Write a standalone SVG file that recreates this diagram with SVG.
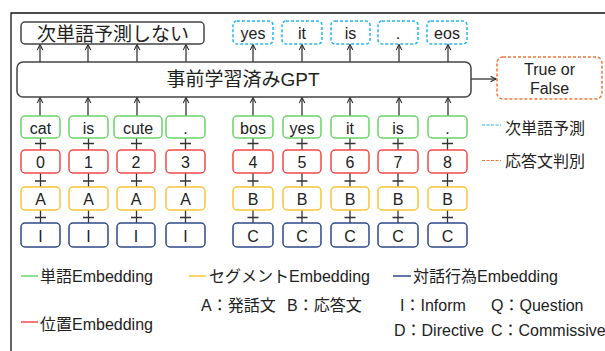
<svg xmlns="http://www.w3.org/2000/svg" width="605" height="351" viewBox="0 0 605 351">
<defs>
<marker id="ah" viewBox="0 0 10 10" refX="9" refY="5" markerWidth="7" markerHeight="7" orient="auto" markerUnits="userSpaceOnUse">
<path d="M1,1 L9,5 L1,9" fill="none" stroke="#333" stroke-width="1.6"/>
</marker>
<style>
text{font-family:"Liberation Sans","Noto Sans CJK JP",sans-serif;fill:#222;}
.t{font-size:16px;text-anchor:middle;}
.big{font-size:19px;text-anchor:middle;}
.lg{font-size:16px;}
.lr{font-size:16px;}
.box{fill:#fff;stroke-width:1.5;}
.g{stroke:#6ad46a;}
.r{stroke:#f44848;}
.y{stroke:#f8c43a;}
.b{stroke:#2e4a86;}
.k{stroke:#444;}
.cy{stroke:#2ab4ee;stroke-dasharray:3 2;}
.or{stroke:#f07838;stroke-dasharray:3 2;}
.c line{stroke:#333;stroke-width:1.3;}
.a{marker-end:url(#ah);}
</style>
</defs>
<rect width="605" height="351" fill="#fff"/>
<path d="M11,351 V13 H605" fill="none" stroke="#111" stroke-width="1.3"/>

<g id="connectors" class="c">
<line class="a" x1="40" y1="62" x2="40" y2="44.5"/>
<line class="a" x1="88" y1="62" x2="88" y2="44.5"/>
<line class="a" x1="137" y1="62" x2="137" y2="44.5"/>
<line class="a" x1="186" y1="62" x2="186" y2="44.5"/>
<line class="a" x1="253" y1="62" x2="253" y2="44.5"/>
<line class="a" x1="302" y1="62" x2="302" y2="44.5"/>
<line class="a" x1="350" y1="62" x2="350" y2="44.5"/>
<line class="a" x1="399" y1="62" x2="399" y2="44.5"/>
<line class="a" x1="448" y1="62" x2="448" y2="44.5"/>
<line class="a" x1="40" y1="116" x2="40" y2="97.5"/>
<line class="a" x1="88" y1="116" x2="88" y2="97.5"/>
<line class="a" x1="137" y1="116" x2="137" y2="97.5"/>
<line class="a" x1="186" y1="116" x2="186" y2="97.5"/>
<line class="a" x1="253" y1="116" x2="253" y2="97.5"/>
<line class="a" x1="302" y1="116" x2="302" y2="97.5"/>
<line class="a" x1="350" y1="116" x2="350" y2="97.5"/>
<line class="a" x1="399" y1="116" x2="399" y2="97.5"/>
<line class="a" x1="448" y1="116" x2="448" y2="97.5"/>
<line class="a" x1="471" y1="79" x2="496" y2="79"/>
<g id="plus">
<line x1="40.5" y1="138" x2="40.5" y2="223"/>
<line x1="88.5" y1="138" x2="88.5" y2="223"/>
<line x1="136.5" y1="138" x2="136.5" y2="223"/>
<line x1="185.5" y1="138" x2="185.5" y2="223"/>
<line x1="253" y1="138" x2="253" y2="223"/>
<line x1="302" y1="138" x2="302" y2="223"/>
<line x1="350" y1="138" x2="350" y2="223"/>
<line x1="398" y1="138" x2="398" y2="223"/>
<line x1="447.5" y1="138" x2="447.5" y2="223"/>
</g>
<path d="M35,143.5h11M83,143.5h11M131,143.5h11M180,143.5h11M247.5,143.5h11M296.5,143.5h11M344.5,143.5h11M392.5,143.5h11M442,143.5h11
M35,181h11M83,181h11M131,181h11M180,181h11M247.5,181h11M296.5,181h11M344.5,181h11M392.5,181h11M442,181h11
M35,217.5h11M83,217.5h11M131,217.5h11M180,217.5h11M247.5,217.5h11M296.5,217.5h11M344.5,217.5h11M392.5,217.5h11M442,217.5h11" stroke="#333" stroke-width="1.3" fill="none"/>
</g>

<g id="no-next">
<rect class="box k" x="21" y="22" width="183" height="22" rx="4"/>
<text class="big" x="113" y="41">次単語予測しない</text>
</g>
<g id="out-yes"><rect class="box cy" x="233" y="21" width="40" height="23" rx="4"/><text class="t" x="253" y="38.5">yes</text></g>
<g id="out-it"><rect class="box cy" x="282" y="21" width="40" height="23" rx="4"/><text class="t" x="302" y="38.5">it</text></g>
<g id="out-is"><rect class="box cy" x="331" y="21" width="39" height="23" rx="4"/><text class="t" x="350.5" y="38.5">is</text></g>
<g id="out-dot"><rect class="box cy" x="378" y="21" width="40" height="23" rx="4"/><text class="t" x="398" y="38.5">.</text></g>
<g id="out-eos"><rect class="box cy" x="427" y="21" width="40" height="23" rx="4"/><text class="t" x="447" y="38.5">eos</text></g>

<g id="gpt">
<rect class="box k" x="17" y="62" width="454" height="35" rx="6"/>
<text class="big" x="243" y="86">事前学習済みGPT</text>
</g>
<g id="tf">
<rect class="box or" x="497" y="57" width="105" height="42" rx="6"/>
<text class="t" x="549.5" y="75">True or</text>
<text class="t" x="549.5" y="94">False</text>
</g>

<g id="w0"><rect class="box g" x="21" y="116" width="39" height="22" rx="4"/><text class="t" x="40.5" y="133.5">cat</text></g>
<g id="w1"><rect class="box g" x="69" y="116" width="39" height="22" rx="4"/><text class="t" x="88.5" y="133.5">is</text></g>
<g id="w2"><rect class="box g" x="114" y="116" width="48" height="22" rx="4"/><text class="t" x="138" y="133.5">cute</text></g>
<g id="w3"><rect class="box g" x="166" y="116" width="39" height="22" rx="4"/><text class="t" x="185.5" y="133.5">.</text></g>
<g id="w4"><rect class="box g" x="233" y="116" width="40" height="22" rx="4"/><text class="t" x="253" y="133.5">bos</text></g>
<g id="w5"><rect class="box g" x="283" y="116" width="38" height="22" rx="4"/><text class="t" x="302" y="133.5">yes</text></g>
<g id="w6"><rect class="box g" x="331" y="116" width="38" height="22" rx="4"/><text class="t" x="350" y="133.5">it</text></g>
<g id="w7"><rect class="box g" x="378" y="116" width="40" height="22" rx="4"/><text class="t" x="398" y="133.5">is</text></g>
<g id="w8"><rect class="box g" x="428" y="116" width="39" height="22" rx="4"/><text class="t" x="447.5" y="133.5">.</text></g>

<g id="p0"><rect class="box r" x="21" y="150" width="39" height="23" rx="4"/><text class="t" x="40.5" y="168">0</text></g>
<g id="p1"><rect class="box r" x="69" y="150" width="39" height="23" rx="4"/><text class="t" x="88.5" y="168">1</text></g>
<g id="p2"><rect class="box r" x="117" y="150" width="38" height="23" rx="4"/><text class="t" x="136" y="168">2</text></g>
<g id="p3"><rect class="box r" x="166" y="150" width="39" height="23" rx="4"/><text class="t" x="185.5" y="168">3</text></g>
<g id="p4"><rect class="box r" x="233" y="150" width="40" height="23" rx="4"/><text class="t" x="253" y="168">4</text></g>
<g id="p5"><rect class="box r" x="283" y="150" width="38" height="23" rx="4"/><text class="t" x="302" y="168">5</text></g>
<g id="p6"><rect class="box r" x="331" y="150" width="38" height="23" rx="4"/><text class="t" x="350" y="168">6</text></g>
<g id="p7"><rect class="box r" x="378" y="150" width="40" height="23" rx="4"/><text class="t" x="398" y="168">7</text></g>
<g id="p8"><rect class="box r" x="428" y="150" width="39" height="23" rx="4"/><text class="t" x="447.5" y="168">8</text></g>

<g id="s0"><rect class="box y" x="21" y="187" width="39" height="23" rx="4"/><text class="t" x="40.5" y="205">A</text></g>
<g id="s1"><rect class="box y" x="69" y="187" width="39" height="23" rx="4"/><text class="t" x="88.5" y="205">A</text></g>
<g id="s2"><rect class="box y" x="117" y="187" width="38" height="23" rx="4"/><text class="t" x="136" y="205">A</text></g>
<g id="s3"><rect class="box y" x="166" y="187" width="39" height="23" rx="4"/><text class="t" x="185.5" y="205">A</text></g>
<g id="s4"><rect class="box y" x="233" y="187" width="40" height="23" rx="4"/><text class="t" x="253" y="205">B</text></g>
<g id="s5"><rect class="box y" x="283" y="187" width="38" height="23" rx="4"/><text class="t" x="302" y="205">B</text></g>
<g id="s6"><rect class="box y" x="331" y="187" width="38" height="23" rx="4"/><text class="t" x="350" y="205">B</text></g>
<g id="s7"><rect class="box y" x="378" y="187" width="40" height="23" rx="4"/><text class="t" x="398" y="205">B</text></g>
<g id="s8"><rect class="box y" x="428" y="187" width="39" height="23" rx="4"/><text class="t" x="447.5" y="205">B</text></g>

<g id="d0"><rect class="box b" x="21" y="223" width="39" height="24" rx="4"/><text class="t" x="40.5" y="241.5">I</text></g>
<g id="d1"><rect class="box b" x="69" y="223" width="39" height="24" rx="4"/><text class="t" x="88.5" y="241.5">I</text></g>
<g id="d2"><rect class="box b" x="117" y="223" width="38" height="24" rx="4"/><text class="t" x="136" y="241.5">I</text></g>
<g id="d3"><rect class="box b" x="166" y="223" width="39" height="24" rx="4"/><text class="t" x="185.5" y="241.5">I</text></g>
<g id="d4"><rect class="box b" x="233" y="223" width="40" height="24" rx="4"/><text class="t" x="253" y="241.5">C</text></g>
<g id="d5"><rect class="box b" x="283" y="223" width="38" height="24" rx="4"/><text class="t" x="302" y="241.5">C</text></g>
<g id="d6"><rect class="box b" x="331" y="223" width="38" height="24" rx="4"/><text class="t" x="350" y="241.5">C</text></g>
<g id="d7"><rect class="box b" x="378" y="223" width="40" height="24" rx="4"/><text class="t" x="398" y="241.5">C</text></g>
<g id="d8"><rect class="box b" x="428" y="223" width="39" height="24" rx="4"/><text class="t" x="447.5" y="241.5">C</text></g>

<g id="legend-right">
<line x1="482" y1="125" x2="501" y2="125" stroke="#2ab4ee" stroke-width="1.2" stroke-dasharray="3 1.5"/>
<text class="lr" x="505" y="134">次単語予測</text>
<line x1="482" y1="160.5" x2="501" y2="160.5" stroke="#f07838" stroke-width="1.2" stroke-dasharray="3 1.5"/>
<text class="lr" x="505" y="167">応答文判別</text>
</g>
<g id="legend-bottom">
<line x1="21" y1="276" x2="38" y2="276" stroke="#6ad46a" stroke-width="1.5"/>
<text class="lg" x="40" y="282">単語Embedding</text>
<line x1="189" y1="276" x2="206" y2="276" stroke="#f8c43a" stroke-width="1.5"/>
<text class="lg" x="209" y="282">セグメントEmbedding</text>
<line x1="393" y1="276" x2="411" y2="276" stroke="#2e4a86" stroke-width="1.5"/>
<text class="lg" x="413" y="282">対話行為Embedding</text>
<text class="lg" x="201" y="311">A：発話文</text>
<text class="lg" x="287" y="311">B：応答文</text>
<text class="lg" x="400" y="311">I：Inform</text>
<text class="lg" x="491" y="311">Q：Question</text>
<line x1="21" y1="322" x2="38" y2="322" stroke="#f44848" stroke-width="1.5"/>
<text class="lg" x="40" y="330">位置Embedding</text>
<text class="lg" x="394" y="336">D：Directive</text>
<text class="lg" x="491" y="336">C：Commissive</text>
</g>
</svg>
